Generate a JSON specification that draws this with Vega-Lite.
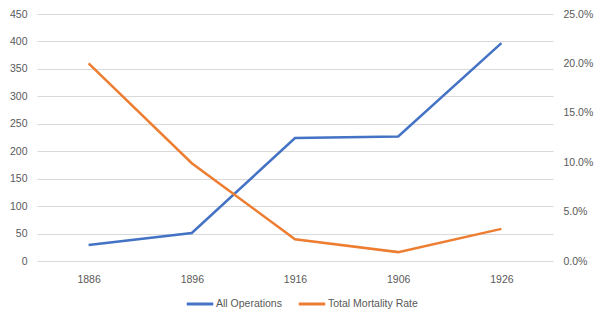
{
  "$schema": "https://vega.github.io/schema/vega-lite/v6.json",
  "width": 516,
  "height": 247,
  "autosize": {"type": "none"},
  "padding": {"left": 37, "top": 14, "right": 49, "bottom": 60},
  "background": "white",
  "config": {
    "view": {"stroke": null},
    "font": "Liberation Sans",
    "axis": {"labelColor": "#595959", "labelFontSize": 10.5, "domain": false, "ticks": false, "title": null, "gridColor": "#d9d9d9", "gridWidth": 1}
  },
  "data": {
    "values": [
      {"year": "1886", "series": "All Operations", "value": 29},
      {"year": "1896", "series": "All Operations", "value": 51},
      {"year": "1916", "series": "All Operations", "value": 224},
      {"year": "1906", "series": "All Operations", "value": 227},
      {"year": "1926", "series": "All Operations", "value": 397},
      {"year": "1886", "series": "Total Mortality Rate", "value": 0.200},
      {"year": "1896", "series": "Total Mortality Rate", "value": 0.099},
      {"year": "1916", "series": "Total Mortality Rate", "value": 0.022},
      {"year": "1906", "series": "Total Mortality Rate", "value": 0.009},
      {"year": "1926", "series": "Total Mortality Rate", "value": 0.0325}
    ]
  },
  "encoding": {
    "x": {"field": "year", "type": "ordinal", "sort": null, "scale": {"type": "point", "padding": 0.5},
      "axis": {"labelAngle": 0, "labelPadding": 13, "grid": false}},
    "color": {"field": "series", "type": "nominal",
      "scale": {"domain": ["All Operations", "Total Mortality Rate"], "range": ["#4472C4", "#ED7D31"]},
      "legend": {"title": null, "orient": "none", "direction": "horizontal", "legendX": 148, "legendY": 275,
        "symbolType": "stroke", "symbolStrokeWidth": 3, "symbolSize": 700, "labelFontSize": 10.5, "labelColor": "#595959", "columnPadding": 10, "labelOffset": 1}}
  },
  "layer": [
    {
      "transform": [{"filter": "datum.series === 'All Operations'"}],
      "mark": {"type": "line", "strokeWidth": 2.5},
      "encoding": {
        "y": {"field": "value", "type": "quantitative", "scale": {"domain": [0, 450]},
          "axis": {"values": [0,50,100,150,200,250,300,350,400,450], "labelPadding": 10, "grid": true}}
      }
    },
    {
      "transform": [{"filter": "datum.series === 'Total Mortality Rate'"}],
      "mark": {"type": "line", "strokeWidth": 2.5},
      "encoding": {
        "y": {"field": "value", "type": "quantitative", "scale": {"domain": [0, 0.25]},
          "axis": {"orient": "right", "values": [0,0.05,0.1,0.15,0.2,0.25], "format": ".1%", "labelPadding": 10, "grid": false}}
      }
    }
  ],
  "resolve": {"scale": {"y": "independent"}}
}
